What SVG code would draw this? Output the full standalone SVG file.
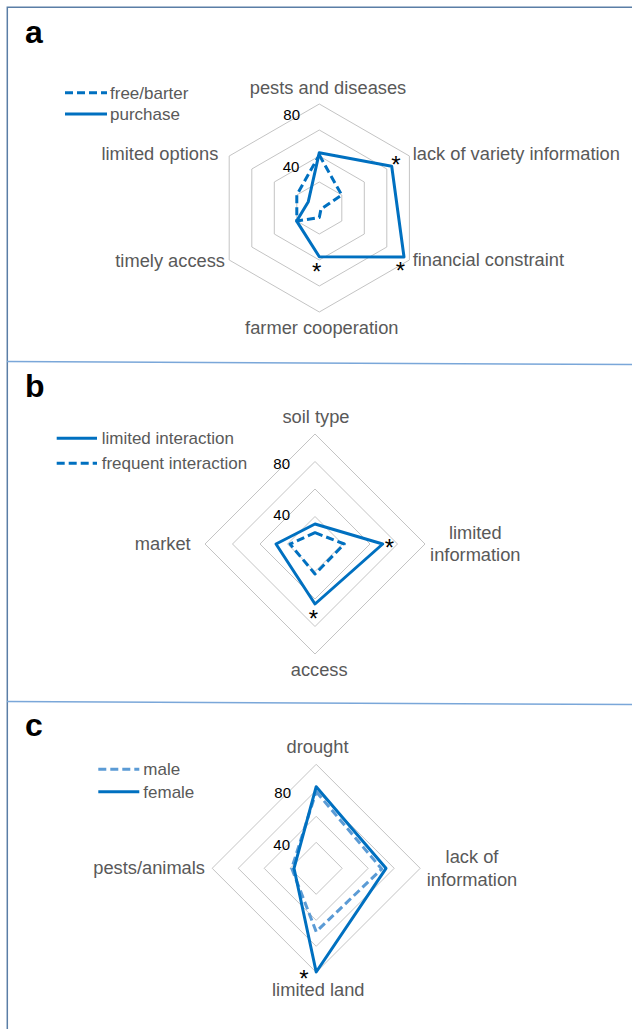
<svg xmlns="http://www.w3.org/2000/svg" width="632" height="1029" viewBox="0 0 632 1029">
<style>
.grid{fill:none;stroke:#c4c4c4;stroke-width:1}
.s{fill:none;stroke:#0070c0;stroke-width:3;stroke-linejoin:round}
.d{fill:none;stroke:#0070c0;stroke-width:3;stroke-linejoin:round;stroke-dasharray:8 4}
.dl{fill:none;stroke:#5b9bd5;stroke-width:3;stroke-linejoin:round;stroke-dasharray:8 4}
text{font-family:"Liberation Sans",Arial,Helvetica,sans-serif}
.lbl{font-size:18.3px;fill:#595959}
.leg{font-size:17px;fill:#595959}
.num{font-size:15px;fill:#000}
.star{font-size:24px;fill:#000;text-anchor:middle}
.ttl{font-size:32px;font-weight:bold;fill:#000}
</style>
<rect width="632" height="1029" fill="#fff"/>
<g id="frame" fill="none">
<path d="M7.3,1029 V7.3 H632" stroke="#5a7ea6" stroke-width="1.5"/>
<line x1="7" y1="361.5" x2="632" y2="364.5" stroke="#7aa7d9" stroke-width="1.5"/>
<line x1="7" y1="701.5" x2="632" y2="704.5" stroke="#7aa7d9" stroke-width="1.5"/>
</g>

<g id="panel-a">
<text class="ttl" x="25" y="43.3">a</text>
<g id="legend-a">
<line class="d" x1="65" y1="92.7" x2="107" y2="92.7"/>
<text class="leg" x="110" y="98.5">free/barter</text>
<line class="s" x1="65" y1="114" x2="107" y2="114"/>
<text class="leg" x="110" y="119.8">purchase</text>
</g>
<g id="grid-a">
<polygon class="grid" points="319.3,104 409.4,156 409.4,260 319.3,312 229.2,260 229.2,156"/>
<polygon class="grid" points="319.3,130 386.8,169 386.8,247 319.3,286 251.8,247 251.8,169"/>
<polygon class="grid" points="319.3,156 364.3,182 364.3,234 319.3,260 274.3,234 274.3,182"/>
<polygon class="grid" points="319.3,182 341.8,195 341.8,221 319.3,234 296.8,221 296.8,195"/>
</g>
<text class="num" x="291.7" y="120.4" text-anchor="middle">80</text>
<text class="num" x="291" y="172" text-anchor="middle">40</text>
<g id="series-a">
<polygon class="d" points="319.3,155 341.7,195 321,209 319.3,217.5 296.8,221 296.8,195"/>
<polygon class="s" points="319.3,152.7 391.7,166.2 404,256.9 319.3,256.7 296.7,221.1 308.3,201.7"/>
</g>
<text class="lbl" x="328" y="94.3" text-anchor="middle">pests and diseases</text>
<text class="lbl" x="412.7" y="159.5">lack of variety information</text>
<text class="lbl" x="412.7" y="266">financial constraint</text>
<text class="lbl" x="321.8" y="334.3" text-anchor="middle">farmer cooperation</text>
<text class="lbl" x="225" y="266.7" text-anchor="end">timely access</text>
<text class="lbl" x="218.3" y="160" text-anchor="end">limited options</text>
<text class="star" x="396" y="173.2">*</text>
<text class="star" x="400.5" y="279">*</text>
<text class="star" x="316.7" y="280">*</text>
</g>

<g id="panel-b">
<text class="ttl" x="25" y="396.7">b</text>
<g id="legend-b">
<line class="s" x1="56.7" y1="438.3" x2="97" y2="438.3"/>
<text class="leg" x="101.7" y="444">limited interaction</text>
<line class="d" x1="56.7" y1="463.3" x2="97" y2="463.3"/>
<text class="leg" x="101.7" y="469">frequent interaction</text>
</g>
<g id="grid-b">
<polygon class="grid" points="315,434 425,544 315,654 205,544"/>
<polygon class="grid" points="315,461.5 397.5,544 315,626.5 232.5,544"/>
<polygon class="grid" points="315,489 370,544 315,599 260,544"/>
<polygon class="grid" points="315,516.5 342.5,544 315,571.5 287.5,544"/>
</g>
<text class="num" x="281.7" y="468.7" text-anchor="middle">80</text>
<text class="num" x="281.7" y="520.4" text-anchor="middle">40</text>
<g id="series-b">
<polygon class="d" points="315,532.7 344.3,544 315,574 290,544"/>
<polygon class="s" points="315,524 382.7,544 315,604 276,544"/>
</g>
<text class="lbl" x="316" y="423.3" text-anchor="middle">soil type</text>
<text class="lbl" x="475.3" y="539" text-anchor="middle">limited</text>
<text class="lbl" x="475.3" y="561" text-anchor="middle">information</text>
<text class="lbl" x="319.2" y="676" text-anchor="middle">access</text>
<text class="lbl" x="190.7" y="550.3" text-anchor="end">market</text>
<text class="star" x="389.5" y="555.6">*</text>
<text class="star" x="313.3" y="626.6">*</text>
</g>

<g id="panel-c">
<text class="ttl" x="25" y="736">c</text>
<g id="legend-c">
<line class="dl" x1="98.3" y1="769.3" x2="139.3" y2="769.3"/>
<text class="leg" x="143.3" y="775">male</text>
<line class="s" x1="98.3" y1="791.7" x2="139.3" y2="791.7"/>
<text class="leg" x="143.3" y="797.5">female</text>
</g>
<g id="grid-c">
<polygon class="grid" points="316.2,764.3 420.2,868.3 316.2,972.3 212.2,868.3"/>
<polygon class="grid" points="316.2,790.3 394.2,868.3 316.2,946.3 238.2,868.3"/>
<polygon class="grid" points="316.2,816.3 368.2,868.3 316.2,920.3 264.2,868.3"/>
<polygon class="grid" points="316.2,842.3 342.2,868.3 316.2,894.3 290.2,868.3"/>
</g>
<text class="num" x="282.7" y="797.7" text-anchor="middle">80</text>
<text class="num" x="281.7" y="850.4" text-anchor="middle">40</text>
<g id="series-c">
<polygon class="dl" points="316.2,791.7 381.7,869 316.2,931.7 291.7,868.3"/>
<polygon class="s" points="316.2,786.7 386,868.3 316.2,972 294,868.3"/>
</g>
<text class="lbl" x="317.5" y="753.3" text-anchor="middle">drought</text>
<text class="lbl" x="472" y="863" text-anchor="middle">lack of</text>
<text class="lbl" x="472" y="886" text-anchor="middle">information</text>
<text class="lbl" x="318.3" y="996" text-anchor="middle">limited land</text>
<text class="lbl" x="205" y="874.3" text-anchor="end">pests/animals</text>
<text class="star" x="304" y="987">*</text>
</g>
</svg>
